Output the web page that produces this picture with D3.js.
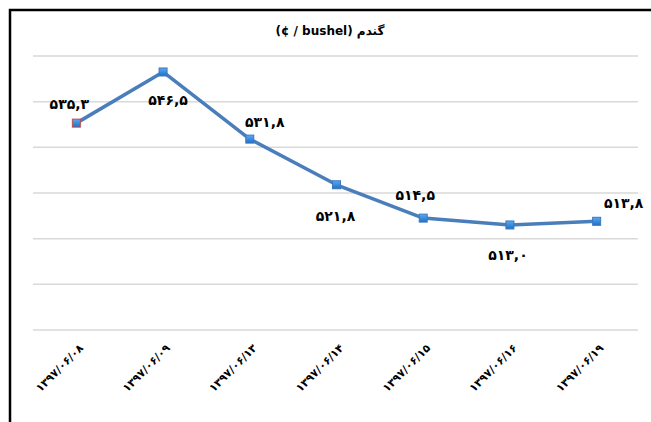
<!DOCTYPE html>
<html lang="fa">
<head>
  <meta charset="UTF-8" />
  <title>گندم</title>
  <script src="https://d3js.org/d3.v7.min.js"></script>
  <style>
    body {
      margin: 0;
      background: #fff;
      font-family: "DejaVu Sans", sans-serif;
    }
    svg { display: block; }
  </style>
</head>
<body>
  <div id="chart"></div>

  <script>
    // ---------- DATA ----------
    const dates = ["۱۳۹۷/۰۶/۰۸", "۱۳۹۷/۰۶/۰۹", "۱۳۹۷/۰۶/۱۳", "۱۳۹۷/۰۶/۱۴",
                   "۱۳۹۷/۰۶/۱۵", "۱۳۹۷/۰۶/۱۶", "۱۳۹۷/۰۶/۱۹"];
    const prices = [535.3, 546.5, 531.8, 521.8, 514.5, 513.0, 513.8];
    const yTicks = [490, 500, 510, 520, 530, 540, 550];
    const chartTitle = "(¢ / bushel) گندم";

    // where each value label sits relative to its point
    const labelOffsets = [[-7, -19], [5, 28], [15, -17], [-1, 31], [-8, -23], [-2, 30], [27, -18]];

    // ---------- CHART ----------
    const width = 651, height = 422;
    const svg = d3.select("#chart").append("svg")
      .attr("width", width).attr("height", height);

    // outer frame (cut off on the right and bottom)
    svg.append("rect")
      .attr("x", 10).attr("y", 10)
      .attr("width", 700).attr("height", 500)
      .attr("fill", "#fff")
      .attr("stroke", "#000")
      .attr("stroke-width", 2.5);

    const x = d3.scaleBand().domain(dates).range([33, 640]);
    const y = d3.scaleLinear().domain([490, 550]).range([330, 56]);
    const cx = d => x(d) + x.bandwidth() / 2;

    // gridlines
    svg.append("g")
      .selectAll("line")
      .data(yTicks)
      .join("line")
      .attr("x1", 33).attr("x2", 638)
      .attr("y1", d => y(d)).attr("y2", d => y(d))
      .attr("stroke", "#d9d9d9")
      .attr("stroke-width", 1.5);

    // title
    svg.append("text")
      .attr("x", 330).attr("y", 35)
      .attr("text-anchor", "middle")
      .attr("font-size", 12)
      .attr("font-weight", "bold")
      .text(chartTitle);

    const pts = dates.map((d, i) => ({ date: d, value: prices[i], i }));

    // line
    svg.append("path")
      .datum(pts)
      .attr("fill", "none")
      .attr("stroke", "#4a7ebb")
      .attr("stroke-width", 3.5)
      .attr("stroke-linejoin", "round")
      .attr("d", d3.line().x(d => cx(d.date)).y(d => y(d.value)));

    // markers
    const defs = svg.append("defs");
    const grad = defs.append("linearGradient")
      .attr("id", "mk").attr("x1", 0).attr("y1", 0).attr("x2", 0).attr("y2", 1);
    grad.append("stop").attr("offset", "0%").attr("stop-color", "#5aa9f0");
    grad.append("stop").attr("offset", "100%").attr("stop-color", "#1f6fc8");

    svg.append("g")
      .selectAll("rect")
      .data(pts)
      .join("rect")
      .attr("x", d => cx(d.date) - 4)
      .attr("y", d => y(d.value) - 4)
      .attr("width", 8).attr("height", 8)
      .attr("fill", "url(#mk)")
      .attr("stroke", d => d.i === 0 ? "#c0504d" : "#3c78c0")
      .attr("stroke-width", 1);

    // value labels with Persian digits
    const fa = "۰۱۲۳۴۵۶۷۸۹";
    const toFa = v => v.toFixed(1).replace(".", ",").replace(/\d/g, c => fa[+c]);

    svg.append("g")
      .selectAll("text")
      .data(pts)
      .join("text")
      .attr("x", d => cx(d.date) + labelOffsets[d.i][0])
      .attr("y", d => y(d.value) + labelOffsets[d.i][1])
      .attr("dy", "0.35em")
      .attr("text-anchor", "middle")
      .attr("font-size", 14)
      .attr("font-weight", "bold")
      .text(d => toFa(d.value));

    // x axis labels, rotated
    svg.append("g")
      .selectAll("text")
      .data(dates)
      .join("text")
      .attr("transform", d => `translate(${cx(d) + 5},${346}) rotate(-45)`)
      .attr("text-anchor", "end")
      .attr("dy", "0.35em")
      .attr("font-size", 11)
      .attr("font-weight", "bold")
      .text(d => d);
  </script>
</body>
</html>
